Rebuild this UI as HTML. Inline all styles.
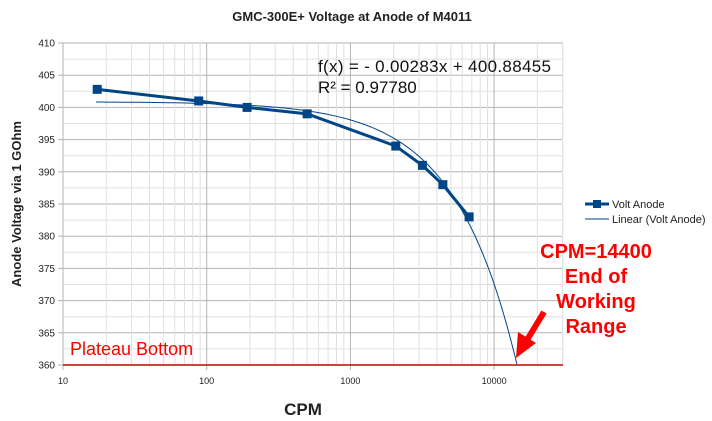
<!DOCTYPE html>
<html><head><meta charset="utf-8"><style>
body{margin:0;background:#fff;}
svg{display:block;font-family:"Liberation Sans",sans-serif;}
</style></head><body>
<svg id="s" width="712" height="421" xmlns="http://www.w3.org/2000/svg">
<rect width="712" height="421" fill="#fff"/>
<g id="grid"></g>
<text x="352" y="21" text-anchor="middle" font-size="13" font-weight="bold" fill="#222">GMC-300E+ Voltage at Anode of M4011</text>
<text transform="translate(21,204) rotate(-90)" text-anchor="middle" font-size="13" font-weight="bold" fill="#222">Anode Voltage via 1 GOhm</text>
<text x="303" y="415" text-anchor="middle" font-size="17" font-weight="bold" fill="#222">CPM</text>
<text x="318" y="72" font-size="17" fill="#111" textLength="233">f(x) =  - 0.00283x + 400.88455</text>
<text x="318" y="93" font-size="17" fill="#111">R² = 0.97780</text>
<line x1="585" y1="204" x2="609" y2="204" stroke="#004586" stroke-width="3"/>
<rect x="593" y="200" width="8" height="8" fill="#004586"/>
<text x="612" y="208" font-size="11" fill="#222">Volt Anode</text>
<line x1="585" y1="219" x2="609" y2="219" stroke="#004586" stroke-width="1"/>
<text x="612" y="223" font-size="11" fill="#222">Linear (Volt Anode)</text>
<g font-size="20" font-weight="bold" fill="#ff0000" text-anchor="middle">
<text x="596" y="258">CPM=14400</text>
<text x="596" y="283">End of</text>
<text x="596" y="308">Working</text>
<text x="596" y="333">Range</text>
</g>
<text x="70" y="355" font-size="18" fill="#ff0000">Plateau Bottom</text>
<line x1="63" y1="365" x2="563" y2="365" stroke="#cc0000" stroke-width="1.5"/>
<line x1="544" y1="312" x2="527" y2="340" stroke="#ff0000" stroke-width="6"/>
<polygon points="516,358 518,332 536,343" fill="#ff0000"/>
<g id="data"></g>
</svg>
<script>
var NS="http://www.w3.org/2000/svg";
function X(v){return 63+(Math.log10(v)-1)*143.7;}
function Y(v){return 43+(410-v)*6.44;}
function el(p,t,a){var e=document.createElementNS(NS,t);for(var k in a)e.setAttribute(k,a[k]);p.appendChild(e);return e;}
var g=document.getElementById('grid');
for(var v=360;v<=410;v+=2.5){var maj=(v%5==0);
 el(g,'line',{x1:63,x2:563,y1:Y(v),y2:Y(v),stroke:maj?'#b3b3b3':'#e0e0e0','stroke-width':1});
 if(maj){el(g,'line',{x1:58,x2:63,y1:Y(v),y2:Y(v),stroke:'#b3b3b3'});
 var t=el(g,'text',{x:55,y:Y(v)+3.5,'text-anchor':'end','font-size':10,fill:'#222'});t.textContent=v;}}
for(var d=10;d<=10000;d*=10){for(var m=1;m<=9;m++){var val=d*m;if(val>30000)break;
 var maj=(m==1);el(g,'line',{x1:X(val),x2:X(val),y1:43,y2:365,stroke:maj?'#b3b3b3':'#e0e0e0'});
 if(maj){el(g,'line',{x1:X(val),x2:X(val),y1:365,y2:370,stroke:'#b3b3b3'});
 var t=el(g,'text',{x:X(val),y:384,'text-anchor':'middle','font-size':9,fill:'#222'});t.textContent=val;}}}
el(g,'line',{x1:X(30000),x2:X(30000),y1:43,y2:365,stroke:'#e0e0e0'});
el(g,'line',{x1:63,x2:63,y1:43,y2:370,stroke:'#b3b3b3'});
var dg=document.getElementById('data');
var pts=[];for(var i=0;i<=200;i++){var lx=Math.log10(17)+(Math.log10(14400)-Math.log10(17))*i/200;var x=Math.pow(10,lx);pts.push(X(x).toFixed(1)+','+Y(-0.00283*x+400.88455).toFixed(1));}
el(dg,'polyline',{points:pts.join(' '),fill:'none',stroke:'#004586','stroke-width':1});
var D=[[17.3,402.8],[88,401],[191,400],[500,399],[2070,394],[3170,391],[4400,388],[6700,383]];
el(dg,'polyline',{points:D.map(function(p){return X(p[0])+','+Y(p[1]);}).join(' '),fill:'none',stroke:'#004586','stroke-width':3});
D.forEach(function(p){el(dg,'rect',{x:X(p[0])-4.5,y:Y(p[1])-4.5,width:9,height:9,fill:'#004586'});});
</script>
</body></html>
